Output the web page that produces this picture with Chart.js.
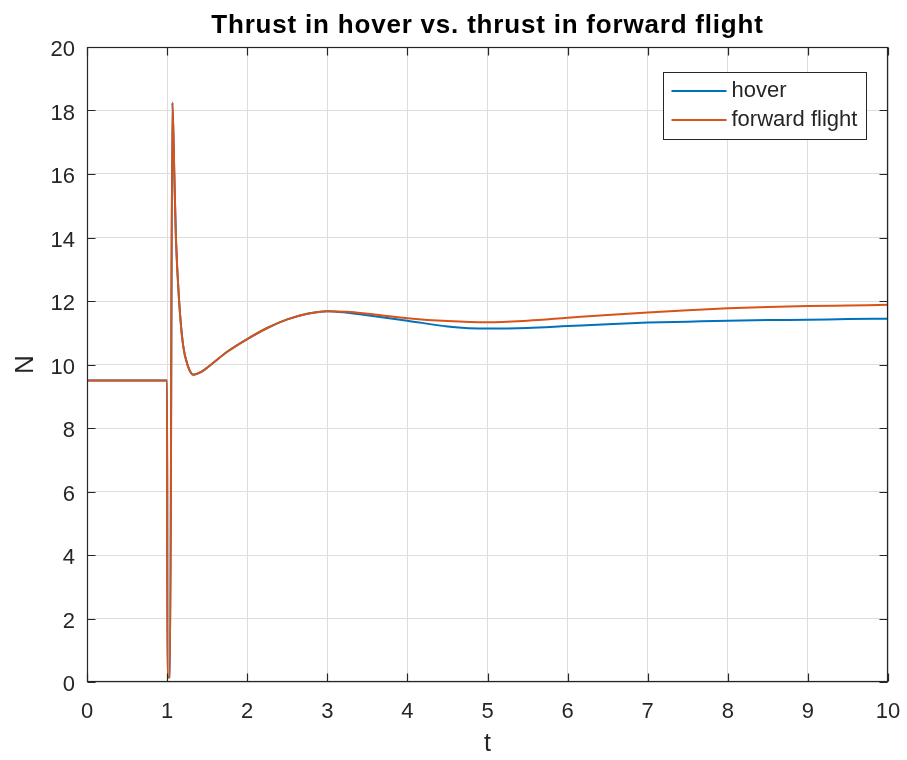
<!DOCTYPE html>
<html>
<head>
<meta charset="utf-8">
<script src="https://cdn.jsdelivr.net/npm/chart.js@4/dist/chart.umd.min.js"></script>
<style>
  html, body { margin: 0; padding: 0; background: #fff; }
  #wrap { width: 907px; height: 760px; }
</style>
</head>
<body>
<div id="wrap"><canvas id="c" width="907" height="760"></canvas></div>
<script>
// Thrust (N) against time t for the two flight cases
const chartTitle = 'Thrust in hover vs. thrust in forward flight';
const seriesNames = ['hover', 'forward flight'];
const xLabel = 't';
const yLabel = 'N';

const timeHover = [0, 1.0, 1.004, 1.036, 1.066, 1.09, 1.11, 1.15, 1.2, 1.26, 1.33, 1.42, 1.55, 1.75,
  2.0, 2.25, 2.5, 2.75, 3.0, 3.25, 3.5, 4.0, 4.5, 5.0, 5.5, 6.0, 6.5, 7.0, 7.5, 8.0, 8.5, 9.0, 9.5, 10.0];
const thrustHover = [9.5, 9.5, 0.15, 0.15, 18.25, 16.0, 14.0, 12.0, 10.6, 9.95, 9.68, 9.76, 10.0, 10.4,
  10.8, 11.15, 11.42, 11.6, 11.68, 11.63, 11.55, 11.38, 11.2, 11.13, 11.15, 11.21, 11.27, 11.32, 11.35, 11.38, 11.40, 11.41, 11.43, 11.44];

const timeForward = [0, 1.0, 1.004, 1.036, 1.066, 1.09, 1.11, 1.15, 1.2, 1.26, 1.33, 1.42, 1.55, 1.75,
  2.0, 2.25, 2.5, 2.75, 3.0, 3.25, 3.5, 4.0, 4.5, 5.0, 5.5, 6.0, 6.5, 7.0, 7.5, 8.0, 8.5, 9.0, 9.5, 10.0];
const thrustForward = [9.5, 9.5, 0.15, 0.15, 18.25, 16.0, 14.0, 12.0, 10.6, 9.95, 9.68, 9.76, 10.0, 10.4,
  10.8, 11.15, 11.42, 11.6, 11.68, 11.66, 11.6, 11.46, 11.37, 11.33, 11.38, 11.47, 11.56, 11.64, 11.71, 11.77, 11.81, 11.84, 11.86, 11.88];

const xTickValues = [0, 1, 2, 3, 4, 5, 6, 7, 8, 9, 10];
const yTickValues = [0, 2, 4, 6, 8, 10, 12, 14, 16, 18, 20];

const FONT = '"Liberation Sans", Arial, Helvetica, sans-serif';
const INK = '#262626';
const COLORS = ['#0072BD', '#D95319'];

const toPoints = (xs, ys) => xs.map((x, i) => ({ x: x, y: ys[i] }));

// Bold title centred over the plot area
const plotTitle = {
  id: 'plotTitle',
  afterDraw(chart) {
    const { ctx, chartArea: a } = chart;
    ctx.save();
    ctx.font = 'bold 26px ' + FONT;
    if ('letterSpacing' in ctx) ctx.letterSpacing = '0.8px';
    ctx.fillStyle = '#000';
    ctx.textAlign = 'center';
    ctx.textBaseline = 'middle';
    ctx.fillText(chartTitle, (a.left + a.right) / 2, 26);
    ctx.restore();
  }
};

// Axes box with inward tick marks on all four sides
const frame = {
  id: 'frame',
  afterDatasetsDraw(chart) {
    const { ctx, chartArea: a, scales: { x, y } } = chart;
    const L = Math.round(a.left) + 0.5, R = Math.round(a.right) - 0.5;
    const T = Math.round(a.top) + 0.5, B = Math.round(a.bottom) - 0.5;
    const len = 8;
    ctx.save();
    ctx.strokeStyle = INK;
    ctx.lineWidth = 1.2;
    ctx.beginPath();
    x.ticks.forEach(t => {
      const p = Math.round(x.getPixelForValue(t.value)) + 0.5;
      ctx.moveTo(p, B); ctx.lineTo(p, B - len);
      ctx.moveTo(p, T); ctx.lineTo(p, T + len);
    });
    y.ticks.forEach(t => {
      const p = Math.round(y.getPixelForValue(t.value)) + 0.5;
      ctx.moveTo(L, p); ctx.lineTo(L + len, p);
      ctx.moveTo(R, p); ctx.lineTo(R - len, p);
    });
    ctx.stroke();
    ctx.strokeRect(L, T, R - L, B - T);
    ctx.restore();
  }
};

// Boxed legend in the upper right of the plot area
const boxLegend = {
  id: 'boxLegend',
  afterDraw(chart) {
    const { ctx, chartArea: a } = chart;
    const w = 203, h = 67;
    const bx = Math.round(a.right - 22 - w) + 0.5;
    const by = Math.round(a.top + 25) + 0.5;
    ctx.save();
    ctx.fillStyle = '#fff';
    ctx.fillRect(bx, by, w, h);
    ctx.strokeStyle = INK;
    ctx.lineWidth = 1;
    ctx.strokeRect(bx, by, w, h);
    ctx.font = '22px ' + FONT;
    ctx.textBaseline = 'middle';
    ctx.textAlign = 'left';
    chart.data.datasets.forEach((ds, i) => {
      const cy = by + 18.5 + i * 29;
      ctx.strokeStyle = ds.borderColor;
      ctx.lineWidth = 2;
      ctx.beginPath();
      ctx.moveTo(bx + 8, cy);
      ctx.lineTo(bx + 63, cy);
      ctx.stroke();
      ctx.fillStyle = INK;
      ctx.fillText(ds.label, bx + 68, cy);
    });
    ctx.restore();
  }
};

new Chart(document.getElementById('c'), {
  type: 'line',
  data: {
    datasets: [
      {
        label: seriesNames[0],
        data: toPoints(timeHover, thrustHover),
        borderColor: COLORS[0],
        borderWidth: 2,
        pointRadius: 0,
        fill: false,
        cubicInterpolationMode: 'monotone',
        order: 2
      },
      {
        label: seriesNames[1],
        data: toPoints(timeForward, thrustForward),
        borderColor: COLORS[1],
        borderWidth: 2,
        pointRadius: 0,
        fill: false,
        cubicInterpolationMode: 'monotone',
        order: 1
      }
    ]
  },
  options: {
    responsive: false,
    animation: false,
    devicePixelRatio: 1,
    layout: { padding: { left: 0, right: 19, top: 47, bottom: 0 } },
    plugins: {
      legend: { display: false },
      tooltip: { enabled: false },
      title: { display: false }
    },
    scales: {
      x: {
        type: 'linear',
        min: 0,
        max: 10,
        afterBuildTicks: s => { s.ticks = xTickValues.map(v => ({ value: v })); },
        afterFit: s => { s.height = 78; s.paddingLeft = 0; s.paddingRight = 0; },
        ticks: { color: INK, font: { family: FONT, size: 22 }, padding: 17, maxRotation: 0 },
        grid: { color: '#dedede', lineWidth: 1, drawTicks: false },
        border: { display: false },
        title: { display: true, text: xLabel, color: INK, font: { family: FONT, size: 25 }, padding: { top: 0, bottom: 1 } }
      },
      y: {
        type: 'linear',
        min: 0,
        max: 20,
        afterBuildTicks: s => { s.ticks = yTickValues.map(v => ({ value: v })); },
        afterFit: s => { s.width = 87; s.paddingTop = 0; s.paddingBottom = 0; },
        ticks: { color: INK, font: { family: FONT, size: 22 }, padding: 12, labelOffset: 3 },
        grid: { color: '#dedede', lineWidth: 1, drawTicks: false },
        border: { display: false },
        title: { display: true, text: yLabel, color: INK, font: { family: FONT, size: 26 }, padding: { top: 10, bottom: 0 } }
      }
    }
  },
  plugins: [frame, boxLegend, plotTitle]
});
</script>
</body>
</html>
